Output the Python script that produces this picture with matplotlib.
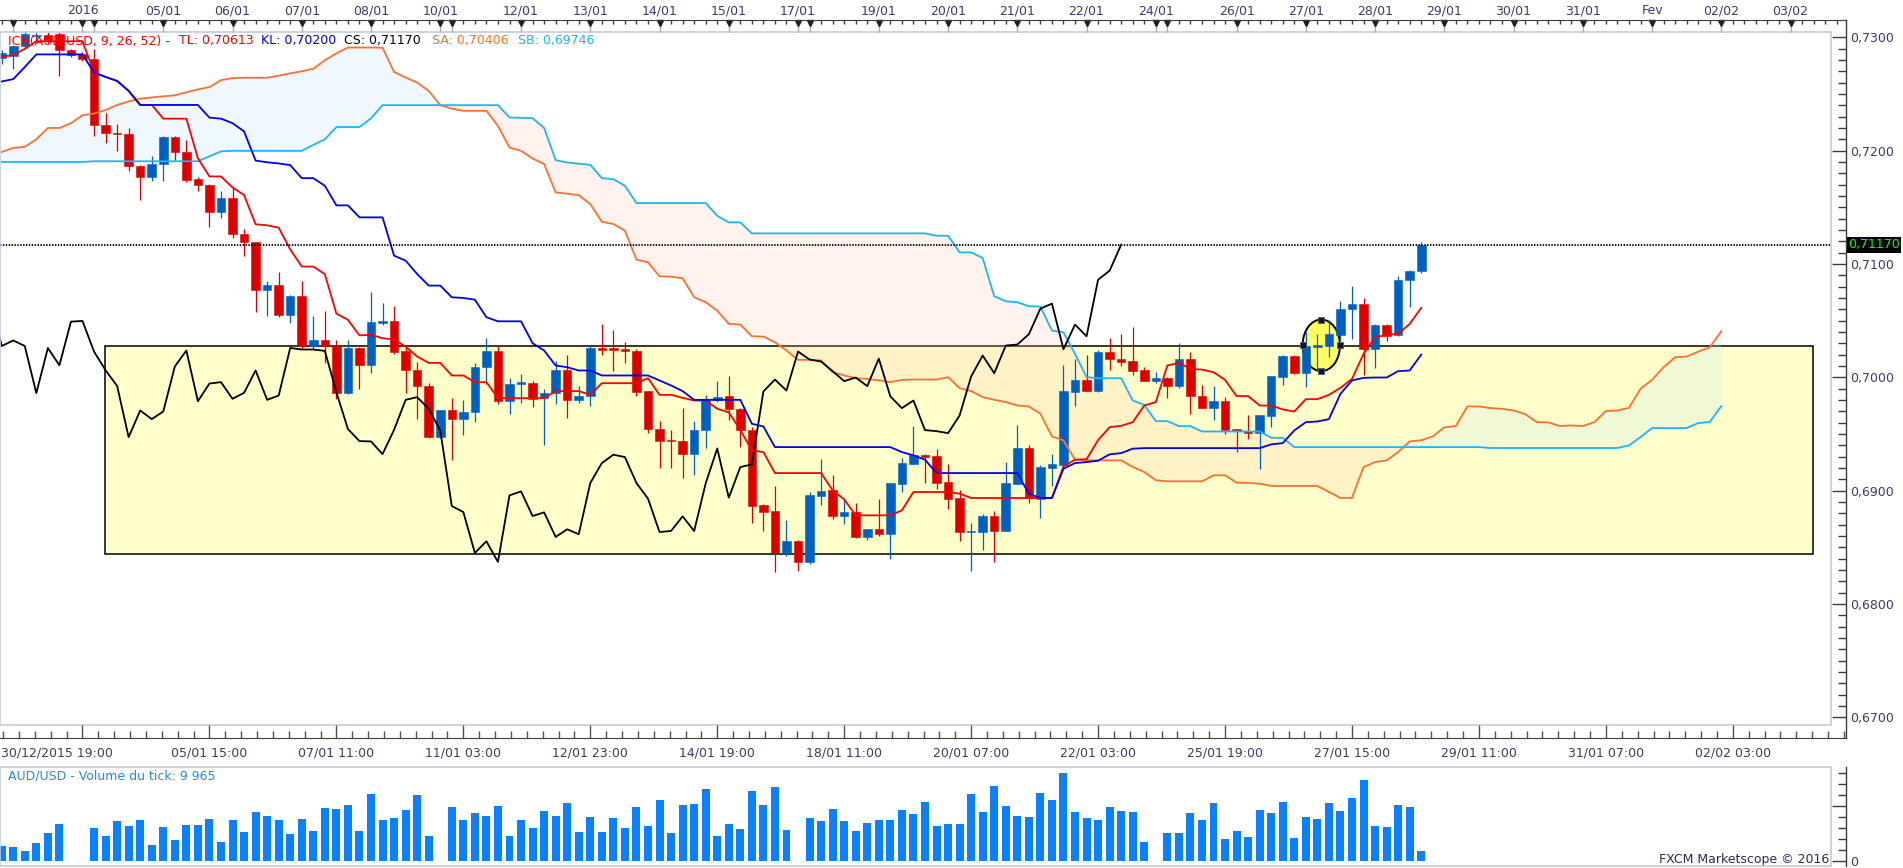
import numpy as np
import matplotlib
matplotlib.use("Agg")
import matplotlib.pyplot as plt
from matplotlib.patches import Rectangle, Ellipse
from matplotlib.lines import Line2D
from matplotlib.ticker import MultipleLocator
from matplotlib.transforms import blended_transform_factory

plt.rcParams['font.family'] = ['DejaVu Sans']

# AUD/USD H4 candles (bar 0 = 30/12/2015 19:00)
opens = [
    0.72819, 0.72837, 0.72919, 0.73010, 0.73020, 0.73025, 0.72889, 0.72849, 0.72807, 0.72230,
    0.72155, 0.72148, 0.71866, 0.71763, 0.71878, 0.72121, 0.71991, 0.71751, 0.71699, 0.71457,
    0.71581, 0.71268, 0.71193, 0.70768, 0.70816, 0.70552, 0.70713, 0.70276, 0.70325, 0.70276,
    0.69860, 0.70258, 0.70110, 0.70480, 0.70500, 0.70236, 0.70068, 0.69927, 0.69472, 0.69707,
    0.69631, 0.69692, 0.70089, 0.70236, 0.69789, 0.69942, 0.69951, 0.69819, 0.69863, 0.70060,
    0.69801, 0.69833, 0.70259, 0.70256, 0.70253, 0.70236, 0.69875, 0.69546, 0.69446, 0.69440,
    0.69322, 0.69537, 0.69801, 0.69831, 0.69722, 0.69537, 0.68870, 0.68817, 0.68450, 0.68553,
    0.68371, 0.68952, 0.69002, 0.68776, 0.68808, 0.68591, 0.68659, 0.68615, 0.69061, 0.69237,
    0.69317, 0.69302, 0.69073, 0.68932, 0.68635, 0.68635, 0.68773, 0.68644, 0.69061, 0.69372,
    0.68929, 0.69202, 0.69225, 0.69869, 0.69980, 0.69883, 0.70224, 0.70165, 0.70145, 0.70060,
    0.69963, 0.69998, 0.69922, 0.70165, 0.69839, 0.69728, 0.69795, 0.69540, 0.69528, 0.69507,
    0.69657, 0.70001, 0.70192, 0.70036, 0.70265, 0.70280, 0.70371, 0.70600, 0.70650, 0.70248,
    0.70465, 0.70371, 0.70855, 0.70935]
highs = [
    0.72889, 0.72934, 0.73050, 0.73045, 0.73045, 0.73045, 0.72900, 0.72870, 0.72900, 0.72328,
    0.72238, 0.72197, 0.71870, 0.71954, 0.72125, 0.72130, 0.72097, 0.71766, 0.71705, 0.71645,
    0.71675, 0.71308, 0.71195, 0.70853, 0.70932, 0.70725, 0.70853, 0.70537, 0.70583, 0.70325,
    0.70325, 0.70264, 0.70756, 0.70656, 0.70632, 0.70271, 0.70139, 0.69951, 0.69712, 0.69813,
    0.69804, 0.70130, 0.70350, 0.70274, 0.69995, 0.70033, 0.69971, 0.69901, 0.70148, 0.70201,
    0.69927, 0.70274, 0.70474, 0.70421, 0.70315, 0.70253, 0.69880, 0.69610, 0.69531, 0.69728,
    0.69613, 0.69848, 0.69963, 0.70007, 0.69730, 0.69560, 0.68879, 0.69037, 0.68738, 0.68560,
    0.68988, 0.69275, 0.69134, 0.68929, 0.68891, 0.68665, 0.68923, 0.69070, 0.69290, 0.69566,
    0.69320, 0.69364, 0.69237, 0.69002, 0.68714, 0.68797, 0.68817, 0.69252, 0.69575, 0.69399,
    0.69223, 0.69320, 0.70110, 0.70157, 0.70201, 0.70245, 0.70345, 0.70380, 0.70447, 0.70095,
    0.70051, 0.70001, 0.70306, 0.70227, 0.69933, 0.69919, 0.69825, 0.69543, 0.69669, 0.69666,
    0.70010, 0.70195, 0.70201, 0.70403, 0.70383, 0.70509, 0.70676, 0.70809, 0.70703, 0.70470,
    0.70470, 0.70894, 0.70945, 0.71196]
lows = [
    0.72761, 0.72720, 0.72900, 0.72960, 0.72950, 0.72661, 0.72830, 0.72790, 0.72125, 0.72065,
    0.72000, 0.71821, 0.71563, 0.71730, 0.71730, 0.71918, 0.71727, 0.71642, 0.71323, 0.71408,
    0.71226, 0.71068, 0.70574, 0.70543, 0.70531, 0.70483, 0.70249, 0.70249, 0.70128, 0.69809,
    0.69855, 0.69900, 0.70036, 0.70462, 0.70206, 0.69860, 0.69631, 0.69465, 0.69465, 0.69267,
    0.69487, 0.69604, 0.69942, 0.69766, 0.69672, 0.69772, 0.69734, 0.69399, 0.69766, 0.69640,
    0.69772, 0.69745, 0.70195, 0.70054, 0.70124, 0.69833, 0.69507, 0.69199, 0.69199, 0.69111,
    0.69140, 0.69375, 0.69781, 0.69622, 0.69384, 0.68714, 0.68644, 0.68283, 0.68421, 0.68291,
    0.68356, 0.68876, 0.68747, 0.68709, 0.68582, 0.68568, 0.68600, 0.68397, 0.68988, 0.69235,
    0.69070, 0.69017, 0.68841, 0.68556, 0.68291, 0.68474, 0.68371, 0.68640, 0.69058, 0.68894,
    0.68758, 0.69040, 0.69193, 0.69751, 0.69880, 0.69869, 0.70068, 0.70104, 0.70016, 0.69963,
    0.69948, 0.69816, 0.69907, 0.69672, 0.69725, 0.69619, 0.69499, 0.69340, 0.69455, 0.69190,
    0.69560, 0.69936, 0.70030, 0.69913, 0.70060, 0.70177, 0.70265, 0.70336, 0.70016, 0.70080,
    0.70318, 0.70365, 0.70618, 0.70917]
closes = [
    0.72858, 0.72919, 0.73025, 0.73020, 0.72975, 0.72889, 0.72845, 0.72806, 0.72223, 0.72152,
    0.72148, 0.71860, 0.71763, 0.71884, 0.72121, 0.71985, 0.71742, 0.71693, 0.71457, 0.71581,
    0.71262, 0.71190, 0.70768, 0.70816, 0.70552, 0.70713, 0.70276, 0.70325, 0.70276, 0.69860,
    0.70258, 0.70106, 0.70491, 0.70497, 0.70227, 0.70062, 0.69924, 0.69472, 0.69707, 0.69631,
    0.69698, 0.70095, 0.70236, 0.69789, 0.69945, 0.69957, 0.69810, 0.69863, 0.70060, 0.69801,
    0.69839, 0.70259, 0.70245, 0.70245, 0.70233, 0.69869, 0.69543, 0.69437, 0.69434, 0.69322,
    0.69537, 0.69801, 0.69825, 0.69722, 0.69531, 0.68864, 0.68811, 0.68450, 0.68553, 0.68371,
    0.68958, 0.68993, 0.68776, 0.68808, 0.68591, 0.68659, 0.68615, 0.69067, 0.69243, 0.69317,
    0.69296, 0.69067, 0.68929, 0.68635, 0.68644, 0.68773, 0.68644, 0.69064, 0.69372, 0.68938,
    0.69208, 0.69231, 0.69875, 0.69980, 0.69883, 0.70227, 0.70157, 0.70139, 0.70054, 0.69966,
    0.69998, 0.69922, 0.70165, 0.69831, 0.69728, 0.69795, 0.69534, 0.69525, 0.69507, 0.69663,
    0.70007, 0.70192, 0.70036, 0.70280, 0.70289, 0.70380, 0.70606, 0.70650, 0.70248, 0.70465,
    0.70362, 0.70861, 0.70941, 0.71170]
volumes = [
    14190, 13290, 9660, 16610, 25970, 34130, 600, 600, 30500, 23250,
    36840, 32310, 37750, 15100, 31410, 19630, 33220, 33220, 38660, 17820,
    37750, 26880, 45000, 41370, 37750, 25070, 38660, 27780, 48620, 47720,
    51340, 27780, 61310, 37750, 39260, 46810, 60400, 23250, 600, 49530,
    37750, 44090, 41370, 50430, 23250, 37750, 30500, 45900, 41370, 53150,
    26880, 40470, 26880, 39560, 30500, 49530, 32310, 55870, 25970, 51340,
    52250, 65840, 23250, 34130, 29600, 64020, 51340, 67650, 28690, 600,
    39560, 36840, 47720, 36840, 27780, 35030, 37750, 37750, 46810, 43190,
    54060, 32310, 34130, 34130, 61000, 44700, 68250, 50130, 41070, 40170,
    61910, 55570, 80330, 44700, 39260, 37450, 49230, 45600, 44700, 17520,
    600, 25670, 25670, 43790, 37450, 52850, 20230, 27480, 22050, 46510,
    43790, 53760, 21140, 40170, 38350, 52850, 45600, 57380, 73690, 32010,
    31110, 51040, 49230, 9965]

# Ichimoku lines
tenkan = ([0.72828, 0.72843, 0.72898] + [0.72965] * 5 +
          [0.72690, 0.72650, 0.72615, 0.72527, 0.72403, 0.72403] + [0.72282] * 3 +
          [0.71933, 0.71772, 0.71772, 0.71675, 0.71608, 0.71350, 0.71341, 0.71320, 0.71129,
           0.70977, 0.70977, 0.70910, 0.70562, 0.70507, 0.70370, 0.70374, 0.70345, 0.70333,
           0.70271, 0.70183, 0.70127, 0.70127, 0.70016, 0.70016, 0.69957, 0.69957] +
          [0.69816] * 5 + [0.69878] * 3 + [0.69845] + [0.69948] * 4 +
          [0.69992, 0.69845, 0.69845, 0.69819, 0.69795, 0.69795, 0.69722, 0.69690, 0.69535,
           0.69355, 0.69340] + [0.69155] * 5 + [0.69002, 0.68923] + [0.68782] * 4 +
          [0.68826] + [0.68988] * 4 + [0.68973] + [0.68935] * 8 +
          [0.69214, 0.69273, 0.69277, 0.69446, 0.69560, 0.69572, 0.69604, 0.69751, 0.69781,
           0.70104, 0.70127, 0.70074, 0.70068, 0.70045, 0.69977, 0.69834, 0.69834, 0.69751,
           0.69751, 0.69716, 0.69698, 0.69807, 0.69807, 0.69845, 0.69907, 0.69986, 0.70206,
           0.70353, 0.70374, 0.70383, 0.70471, 0.70613])
kijun = ([0.72610, 0.72631, 0.72737] + [0.72849] * 5 +
         [0.72690, 0.72650, 0.72615, 0.72527] + [0.72403] * 6 +
         [0.72291, 0.72282, 0.72242, 0.72170, 0.71912, 0.71897, 0.71887, 0.71872, 0.71757,
          0.71757, 0.71690, 0.71517, 0.71517] + [0.71411] * 3 +
         [0.71073, 0.71029, 0.70911, 0.70809, 0.70809, 0.70706, 0.70700, 0.70685, 0.70530] +
         [0.70494] * 3 + [0.70301, 0.70236, 0.70104, 0.70089, 0.70060, 0.70060] +
         [0.70016] * 5 + [0.69972, 0.69928, 0.69878] + [0.69801] * 5 +
         [0.69590, 0.69566] + [0.69384] * 11 + [0.69340, 0.69311, 0.69273] + [0.69155] * 8 +
         [0.68973, 0.68935, 0.68935, 0.69193, 0.69243, 0.69252, 0.69264, 0.69320, 0.69331,
          0.69370] + [0.69375] * 11 +
         [0.69408, 0.69419, 0.69531, 0.69604, 0.69610, 0.69631, 0.69854, 0.69972, 0.69995,
          0.69998, 0.69998, 0.70054, 0.70060, 0.70200])
senkou_a = ([0.71988, 0.72024, 0.72033, 0.72100, 0.72200, 0.72200, 0.72242, 0.72312, 0.72327,
             0.72358, 0.72403, 0.72434, 0.72458, 0.72470, 0.72479, 0.72488, 0.72515, 0.72540,
             0.72561, 0.72622, 0.72640, 0.72643, 0.72643, 0.72643, 0.72661, 0.72682, 0.72700,
             0.72722, 0.72798, 0.72858, 0.72910, 0.72910, 0.72910, 0.72908, 0.72694, 0.72645,
             0.72600, 0.72527, 0.72401, 0.72370, 0.72351, 0.72351, 0.72351, 0.72218, 0.72027,
             0.71998, 0.71930, 0.71881, 0.71631, 0.71620, 0.71607, 0.71528, 0.71372, 0.71352,
             0.71293, 0.71038, 0.71014, 0.70891, 0.70888, 0.70873, 0.70706, 0.70662, 0.70588,
             0.70471, 0.70465, 0.70362, 0.70359, 0.70309, 0.70236, 0.70154, 0.70154, 0.70148,
             0.70045, 0.70016, 0.69992, 0.69986, 0.69972, 0.69957, 0.69978, 0.69980, 0.69980,
             0.69980, 0.70001, 0.69904, 0.69878, 0.69825, 0.69801, 0.69781, 0.69751, 0.69742,
             0.69678, 0.69478, 0.69443, 0.69273, 0.69267, 0.69267, 0.69267, 0.69267, 0.69208,
             0.69164, 0.69091, 0.69082, 0.69082, 0.69082, 0.69082, 0.69135, 0.69135, 0.69070,
             0.69067, 0.69061] + [0.69041] * 5 +
            [0.68988, 0.68935, 0.68935, 0.69208, 0.69252, 0.69267, 0.69340, 0.69434, 0.69445,
             0.69478, 0.69558, 0.69570, 0.69743, 0.69743, 0.69728, 0.69722, 0.69707, 0.69675,
             0.69605, 0.69602, 0.69570, 0.69575, 0.69570, 0.69605, 0.69702, 0.69707, 0.69731,
             0.69898, 0.69978, 0.70089, 0.70177, 0.70183, 0.70227, 0.70265, 0.70406])
senkou_b = ([0.71900] * 8 + [0.71906] * 10 + [0.71949, 0.71993] + [0.71998] * 7 +
            [0.72050, 0.72100] + [0.72208] * 3 + [0.72285] + [0.72401] * 11 +
            [0.72292, 0.72290, 0.72286, 0.72200, 0.71916, 0.71895, 0.71885, 0.71875, 0.71757,
             0.71748, 0.71690] + [0.71537] * 7 + [0.71425, 0.71367, 0.71367] + [0.71270] * 16 +
            [0.71249, 0.71249, 0.71102, 0.71102, 0.71052, 0.70715, 0.70671, 0.70662, 0.70627,
             0.70624, 0.70412, 0.70397, 0.70207, 0.70001, 0.69992, 0.69992, 0.69992, 0.69795,
             0.69757, 0.69613, 0.69613, 0.69569, 0.69569] + [0.69522] * 6 +
            [0.69466, 0.69466] + [0.69384] * 17 + [0.69376] * 12 +
            [0.69399, 0.69472] + [0.69552] * 4 + [0.69596, 0.69605, 0.69746])
chikou_shift = 26

# time axis: bar indices of day starts (top) and of the 44 h grid (bottom)
day_ticks = [1, 7, 8, 14, 20, 26, 32, 38, 39, 45, 51, 57, 63, 69, 70, 76, 82, 88, 94,
             100, 101, 107, 113, 119, 125, 131, 137, 143, 149, 155]
day_labels = ['', '2016', '', '05/01', '06/01', '07/01', '08/01', '10/01', '', '12/01',
              '13/01', '14/01', '15/01', '17/01', '', '19/01', '20/01', '21/01', '22/01',
              '24/01', '', '26/01', '27/01', '28/01', '29/01', '30/01', '31/01', 'Fev',
              '02/02', '03/02']
time_ticks = [7, 18, 29, 40, 51, 62, 73, 84, 95, 106, 117, 128, 139, 150]
time_labels = ['', '05/01 15:00', '07/01 11:00', '11/01 03:00', '12/01 23:00',
               '14/01 19:00', '18/01 11:00', '20/01 07:00', '22/01 03:00', '25/01 19:00',
               '27/01 15:00', '29/01 11:00', '31/01 07:00', '02/02 03:00']
first_time = '30/12/2015 19:00'

# drawn zone and circle annotation (bar index / price)
zone_x = (8.98, 156.97)
zone_y = (0.68444, 0.70278)
mark_center = (114.34, 0.70282)
mark_size = (3.24, 0.00455)

# colours
UP, DOWN = '#0060C2', '#DC0000'
TL_C, KL_C, SA_C, SB_C = '#FF0000', '#0000F0', '#FF7030', '#1EB4FA'
TXT = '#3A3A6C'
BORDER = '#C4CCD8'
AXC = '#3C3C3C'

o, h, l, c = map(np.array, (opens, highs, lows, closes))
x = np.arange(len(c))
xc = np.arange(len(senkou_a))
sa, sb = np.array(senkou_a), np.array(senkou_b)

# ---- layout (pixels) ----
W, H = 1903, 868
bar_px, first_px = 11.541, 1.7
plot_right, axis_x = 1830.7, 1846


def rect(x0, y0, x1, y1):
    return [x0 / W, 1 - y1 / H, (x1 - x0) / W, (y1 - y0) / H]


xlim_plot = (-first_px / bar_px, (plot_right - first_px) / bar_px)
xlim_axis = (-first_px / bar_px, (axis_x - first_px) / bar_px)
out_pt = (axis_x - plot_right) * 0.72

fig = plt.figure(figsize=(W / 100, H / 100), dpi=100)

# ---- price panel ----
ax = fig.add_axes(rect(0, 32.3, plot_right, 725))
for s in ('top', 'bottom', 'left'):
    ax.spines[s].set_visible(False)
ax.spines['right'].set_position(('outward', out_pt))
ax.spines['right'].set_color('none')
ax.tick_params(axis='x', which='both', bottom=False, top=False, labelbottom=False)
ax.yaxis.tick_right()
yt = np.round(np.arange(0.67, 0.7301, 0.01), 2)
ax.set_yticks(yt)
ax.set_yticklabels([f'{v:.4f}'.replace('.', ',') for v in yt])
ax.yaxis.set_minor_locator(MultipleLocator(0.001))
ax.tick_params(axis='y', which='major', direction='in', length=10.3, width=1,
               color=AXC, pad=3, labelsize=9, labelcolor=TXT)
ax.tick_params(axis='y', which='minor', direction='in', length=5.8, width=1, color=AXC)
ax.add_patch(Rectangle((0, 0), 1, 1, transform=ax.transAxes, fill=False,
                       ec=BORDER, lw=1.2, clip_on=False, zorder=20))

ax.add_patch(Rectangle((zone_x[0], zone_y[0]), zone_x[1] - zone_x[0], zone_y[1] - zone_y[0],
                       fc='#FFFFCC', ec='black', lw=1.1, zorder=1))
ax.fill_between(xc, sa, sb, where=sa >= sb, interpolate=True, color='#BFE3F7',
                alpha=0.22, lw=0, zorder=2)
ax.fill_between(xc, sa, sb, where=sa < sb, interpolate=True, color='#FFC8B8',
                alpha=0.22, lw=0, zorder=2)
ax.add_patch(Ellipse(mark_center, mark_size[0], mark_size[1], fc='#FFFF66', ec='black',
                     lw=1.4, zorder=3.5))

cols = np.where(c >= o, UP, DOWN)
ax.vlines(x, l, h, colors=cols, lw=0.9, zorder=4)
ax.bar(x, np.abs(c - o), bottom=np.minimum(o, c), width=0.74, color=cols,
       edgecolor=cols, lw=0.4, zorder=4.5)

ax.plot(xc, sa, color=SA_C, lw=1.3, zorder=5.5)
ax.plot(xc, sb, color=SB_C, lw=1.3, zorder=5.5)
ax.plot(x - chikou_shift, c, color='black', lw=1.3, zorder=6)
ax.plot(x, tenkan, color=TL_C, lw=1.3, zorder=6.2)
ax.plot(x, kijun, color=KL_C, lw=1.3, zorder=6.4)
ax.axhline(c[-1], color='black', lw=1.3, ls=(0, (0.8, 0.8)), zorder=7)

hx = [mark_center[0] - mark_size[0] / 2, mark_center[0] + mark_size[0] / 2,
      mark_center[0], mark_center[0]]
hy = [mark_center[1], mark_center[1], mark_center[1] + mark_size[1] / 2,
      mark_center[1] - mark_size[1] / 2]
ax.plot(hx, hy, ls='none', marker='s', ms=4.2, mfc='#15152A', mec='#5A5A7A', mew=0.6,
        zorder=8)
ax.set_xlim(*xlim_plot)
ax.set_ylim(0.66932, 0.73044)

legend = [('ICH(AUD/USD, 9, 26, 52) -', TL_C, 8),
          (f'TL: {tenkan[-1]:.5f}'.replace('.', ','), TL_C, 178.6),
          (f'KL: {kijun[-1]:.5f}'.replace('.', ','), KL_C, 261),
          (f'CS: {closes[-1]:.5f}'.replace('.', ','), 'black', 344),
          (f'SA: {senkou_a[-1]:.5f}'.replace('.', ','), SA_C, 432),
          (f'SB: {senkou_b[-1]:.5f}'.replace('.', ','), SB_C, 518)]
for txt, col, px in legend:
    ax.text(px / plot_right, (725 - 40.7) / (725 - 32.3), txt, transform=ax.transAxes,
            color=col, fontsize=9, ha='left', va='center', zorder=30)

bt = blended_transform_factory(ax.transAxes, ax.transData)
ax.text((axis_x + 2) / plot_right, c[-1], f'{c[-1]:.5f}'.replace('.', ','), transform=bt,
        color='#00FF00', fontsize=9, ha='left', va='center', clip_on=False, zorder=30,
        bbox=dict(boxstyle='square,pad=0.12', fc='black', ec='none'))

# ---- top date strip ----
axt = fig.add_axes(rect(0, 20, axis_x, 32.3))
axt.patch.set_alpha(0)
for s in ('bottom', 'left', 'right'):
    axt.spines[s].set_visible(False)
axt.spines['top'].set_color(AXC)
axt.set_yticks([])
axt.xaxis.tick_top()
axt.set_xticks(day_ticks)
axt.set_xticklabels(day_labels)
axt.set_xticks(np.arange(0, 160), minor=True)
axt.tick_params(axis='x', which='major', direction='in', length=8.9, width=1,
                color='#A4ACBA', pad=2, labelsize=9, labelcolor=TXT)
axt.tick_params(axis='x', which='minor', direction='in', length=2.9, width=1, color=AXC)
axt.plot(day_ticks, [0.72] * len(day_ticks), ls='none', marker='v', ms=4.8,
         color='#1E1E1E', clip_on=False)
axt.set_xlim(*xlim_axis)
axt.set_ylim(0, 1)

# ---- bottom time strip ----
axb = fig.add_axes(rect(0, 725, axis_x, 738.3))
axb.patch.set_alpha(0)
for s in ('top', 'left', 'right'):
    axb.spines[s].set_visible(False)
axb.spines['bottom'].set_color(AXC)
axb.set_yticks([])
axb.set_xticks(time_ticks)
axb.set_xticklabels(time_labels)
axb.set_xticks(np.arange(time_ticks[0] - 11, 160, 11 / 8), minor=True)
axb.tick_params(axis='x', which='major', direction='in', length=9.6, width=1,
                color='#505050', pad=6, labelsize=9, labelcolor=TXT)
axb.tick_params(axis='x', which='minor', direction='in', length=4.8, width=1, color='#505050')
axb.set_xlim(*xlim_axis)
axb.set_ylim(0, 1)
axb.annotate(first_time, xy=(0, 0), xycoords='axes fraction', xytext=(0.7, -6),
             textcoords='offset points', ha='left', va='top', fontsize=9, color=TXT)

# ---- volume panel ----
axv = fig.add_axes(rect(0, 767, plot_right, 866))
axv.bar(x, volumes, width=0.69, color='#0A80FA', zorder=3)
for s in ('top', 'bottom', 'left'):
    axv.spines[s].set_visible(False)
axv.spines['right'].set_position(('outward', out_pt))
axv.spines['right'].set_color('none')
axv.tick_params(axis='x', which='both', bottom=False, labelbottom=False)
axv.yaxis.tick_right()
axv.set_yticks([0, 50000])
axv.set_yticklabels(['0', ''])
axv.yaxis.set_minor_locator(MultipleLocator(10000))
axv.tick_params(axis='y', which='major', direction='in', length=10.3, width=1, color=AXC,
                pad=3, labelsize=9, labelcolor=TXT)
axv.tick_params(axis='y', which='minor', direction='in', length=5.8, width=1, color=AXC)
axv.add_patch(Rectangle((0, 0), 1, 1, transform=axv.transAxes, fill=False,
                        ec=BORDER, lw=1.2, clip_on=False, zorder=20))
axv.set_xlim(*xlim_plot)
axv.set_ylim(-4080, 85670)
vol_txt = f'{volumes[-1]:,}'.replace(',', ' ')
axv.text(8.5 / plot_right, (866 - 776) / 99, f'AUD/USD - Volume du tick: {vol_txt}',
         transform=axv.transAxes, color='#2A88E0', fontsize=9, ha='left', va='center')
axv.text(1829 / plot_right, (866 - 859) / 99, 'FXCM Marketscope \u00a9 2016',
         transform=axv.transAxes, color='#2A2A5A', fontsize=9, ha='right', va='center')

# right axis lines
for y0, y1 in ((20, 738.3), (767, 866)):
    fig.add_artist(Line2D([axis_x / W] * 2, [1 - y0 / H, 1 - y1 / H],
                          transform=fig.transFigure, color=AXC, lw=1))

fig.savefig('out.png', dpi=100)
